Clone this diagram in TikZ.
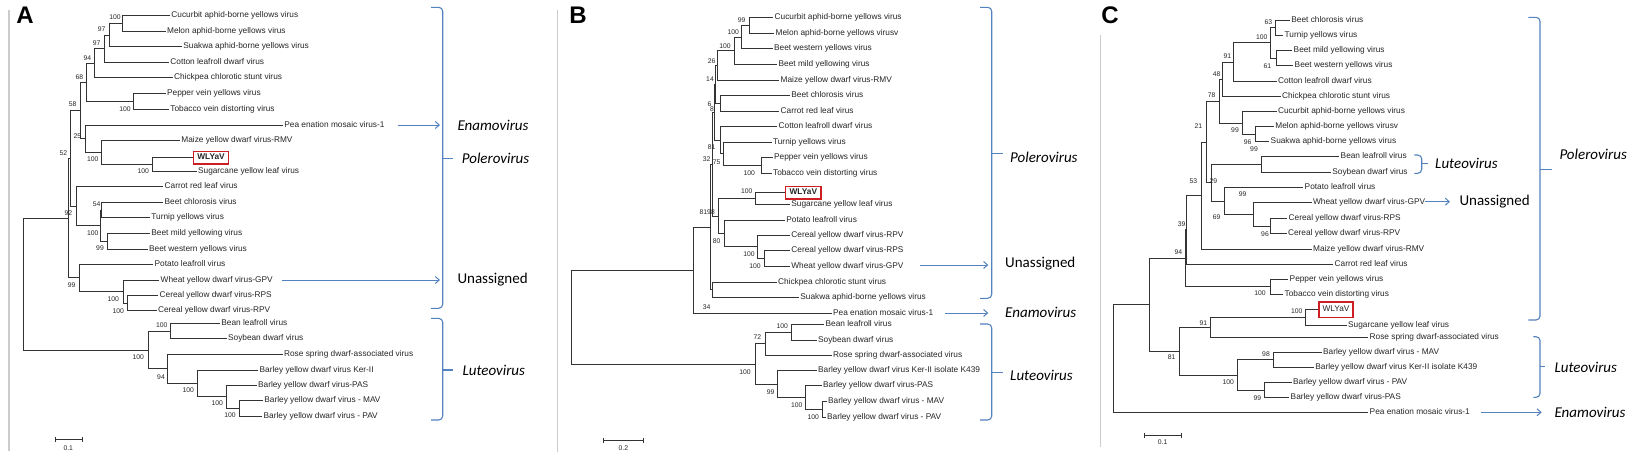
\documentclass[tikz,border=0pt]{standalone}
\usepackage{fontspec}
\setmainfont{Liberation Sans}
\newfontfamily\genusfont{Carlito}
\usetikzlibrary{arrows.meta}
\definecolor{genusblue}{RGB}{84,130,190}
\definecolor{boxred}{RGB}{205,30,35}
\tikzset{
  branch/.style={line width=0.9pt, black!80},
  leaf/.style={anchor=west, inner sep=1.2pt, font=\fontsize{8.3}{9}\selectfont, text=black!85, text height=6pt, text depth=1.7pt},
  boot/.style={inner sep=0pt, font=\fontsize{6.8}{7}\selectfont, text=black!85},
  virusbox/.style={leaf, draw=boxred, line width=1.3pt, inner xsep=4pt, inner ysep=2.5pt, font=\fontsize{8.3}{9}\selectfont\bfseries},
  genus/.style={anchor=west, inner sep=0pt, font=\genusfont\fontsize{15}{16}\selectfont\itshape, text=black},
  unassigned/.style={genus, font=\genusfont\fontsize{15}{16}\selectfont},
  brace/.style={genusblue, line width=1.1pt, rounded corners=4pt},
  genusarrow/.style={genusblue, line width=1pt, -{Straight Barb[length=4pt,width=7pt]}},
  panelrule/.style={gray!40, line width=1.3pt},
  panelletter/.style={inner sep=0pt, font=\fontsize{24}{24}\selectfont\bfseries},
  scalebar/.style={branch, {Bar[width=5pt]}-{Bar[width=5pt]}},
}
\begin{document}
\begin{tikzpicture}[x=1pt, y=-1pt]
    \useasboundingbox[fill=white] (0,0) rectangle (1648,459);

    % panel frames and letters
    \draw[panelrule] (9,10) -- (9,451);
    \draw[panelrule] (557.3,10) -- (557.3,452);
    \draw[panelrule] (1100.7,35) -- (1100.7,447);
    \node[panelletter] (letA) at (25,15) {A};
    \node[panelletter] (letB) at (578,15) {B};
    \node[panelletter] (letC) at (1110,15) {C};

    %%%%%%%%%%%%%%%% Panel A
    \foreach \n/\x/\y/\t in {A1/170/15.7/Cucurbit aphid-borne yellows virus,
        A2/165.7/31.7/Melon aphid-borne yellows virus,
        A3/182/46.7/Suakwa aphid-borne yellows virus,
        A4/169/62.3/Cotton leafroll dwarf virus,
        A5/172.7/77.7/Chickpea chlorotic stunt virus,
        A6/165.7/93.3/Pepper vein yellows virus,
        A7/169/109/Tobacco vein distorting virus,
        A8/283/125/Pea enation mosaic virus-1,
        A9/180/140/Maize yellow dwarf virus-RMV,
        A11/196.7/171.7/Sugarcane yellow leaf virus,
        A12/163.3/186.7/Carrot red leaf virus,
        A13/163.3/202.3/Beet chlorosis virus,
        A14/150/217.7/Turnip yellows virus,
        A15/150/233.3/Beet mild yellowing virus,
        A16/147.7/249/Beet western yellows virus,
        A17/153.3/264.3/Potato leafroll virus,
        A18/159.3/280/Wheat yellow dwarf virus-GPV,
        A19/158.3/295.3/Cereal yellow dwarf virus-RPS,
        A20/156.7/310.7/Cereal yellow dwarf virus-RPV,
        A21/220/323.3/Bean leafroll virus,
        A22/226.7/338.7/Soybean dwarf virus,
        A23/282.7/354.3/Rose spring dwarf-associated virus,
        A24/258.3/370/Barley yellow dwarf virus Ker-II,
        A25/256.7/385/Barley yellow dwarf virus-PAS,
        A26/263/400.7/Barley yellow dwarf virus - MAV,
        A27/262.3/416/Barley yellow dwarf virus - PAV}
        \node[leaf] (\n) at (\x,\y) {\t};
    \node[virusbox] (A10) at (192.7,157.5) {WLYaV};

    \foreach \n/\x/\y in {a1/122.7/23.7, a2/109.3/35.2, a3/104.3/48.75, a4/94/63.2,
        a5/133.3/101.2, a6/86/82.2, a7/152.7/164.6, a8/101/152.3, a9/85/138.7,
        a10/80/110.5, a11/101.7/210, a12/107.3/241.2, a13/100/225.6, a14/76/206.2,
        a15/127.7/303, a16/123.3/291.5, a17/79/277.9, a18/70/158.4, a19/68/218.2,
        a20/239.3/408.4, a21/226/396.7, a22/197.7/383.4, a23/167.7/368.9,
        a24/170/331, a25/148.3/350, aR/23.3/284.1}
        \coordinate (\n) at (\x,\y);

    \foreach \p/\c in {a1/A1, a1/A2, a2/a1, a2/A3, a3/a2, a3/A4, a4/a3, a4/A5,
        a5/A6, a5/A7, a6/a4, a6/a5, a7/A10, a7/A11, a8/A9, a8/a7, a9/A8, a9/a8,
        a10/a6, a10/a9, a11/A13, a11/A14, a12/A15, a12/A16, a13/a11, a13/a12,
        a14/A12, a14/a13, a15/A19, a15/A20, a16/A18, a16/a15, a17/A17, a17/a16,
        a18/a10, a18/a14, a19/a18, a19/a17, a20/A26, a20/A27, a21/A25, a21/a20,
        a22/A24, a22/a21, a23/A23, a23/a22, a24/A21, a24/A22, a25/a24, a25/a23,
        aR/a19, aR/a25}
        \draw[branch] (\p) |- (\c);

    \foreach \t/\x/\y [count=\i] in {100/115/17, 97/101.7/29, 97/96.7/43.3, 94/87.3/58.3,
        68/79.3/76.7, 58/72.7/104.3, 100/125/109, 25/77.3/135.7, 100/92.7/159,
        100/143.3/170.7, 52/63.3/152.7, 54/96.7/204, 92/68.3/213.3, 100/92.7/233.3,
        99/100/248.3, 99/71.7/285, 100/113.3/299, 100/118.3/310.7, 100/161.7/325,
        100/138.3/356.7, 94/161/376.7, 100/188.3/390, 100/217.3/403.3, 100/230/415}
        \node[boot] (bA\i) at (\x,\y) {\t};

    % scale A
    \coordinate (sA1) at (55,439.3);
    \coordinate (sA2) at (83.3,439.3);
    \draw[scalebar] (sA1) -- (sA2);
    \node[boot] (sAt) at (68.3,447.7) {0.1};

    % genera A
    \draw[brace] (431,7.3) -- (442.7,7.3) -- (442.7,308.3) -- (431,308.3);
    \draw[brace] (442.7,158.3) -- (453.3,158.3);
    \draw[brace] (431,318.3) -- (442.7,318.3) -- (442.7,420) -- (431,420);
    \draw[brace] (442.7,370) -- (453.3,370);
    \node[genus] (enaA) at (457.3,125) {Enamovirus};
    \node[genus] (polA) at (461.7,158.3) {Polerovirus};
    \node[unassigned] (unaA) at (457.3,279.3) {Unassigned};
    \node[genus] (lutA) at (462.3,370) {Luteovirus};
    \coordinate (arA1) at (397.7,125);
    \coordinate (arA2) at (440,125);
    \coordinate (arA3) at (281.7,280);
    \coordinate (arA4) at (440,280);
    \draw[genusarrow] (arA1) -- (arA2);
    \draw[genusarrow] (arA3) -- (arA4);

    %%%%%%%%%%%%%%%% Panel B
    \foreach \n/\x/\y/\t in {B1/773.3/17.3/Cucurbit aphid-borne yellows virus,
        B2/774.3/33/Melon aphid-borne yellows virusv,
        B3/772.7/48.7/Beet western yellows virus,
        B4/777.3/64/Beet mild yellowing virus,
        B5/779.3/80/Maize yellow dwarf virus-RMV,
        B6/790/95.7/Beet chlorosis virus,
        B7/779.3/111/Carrot red leaf virus,
        B8/777.3/126.7/Cotton leafroll dwarf virus,
        B9/771.7/142.3/Turnip yellows virus,
        B10/772.7/157.7/Pepper vein yellows virus,
        B11/771.7/173.3/Tobacco vein distorting virus,
        B13/790/204.7/Sugarcane yellow leaf virus,
        B14/785/220/Potato leafroll virus,
        B15/790/235/Cereal yellow dwarf virus-RPV,
        B16/790/250.7/Cereal yellow dwarf virus-RPS,
        B17/790/266/Wheat yellow dwarf virus-GPV,
        B18/776.7/282/Chickpea chlorotic stunt virus,
        B19/799/297.3/Suakwa aphid-borne yellows virus,
        B20/831.7/313.3/Pea enation mosaic virus-1,
        B21/824.3/324.5/Bean leafroll virus,
        B22/816.7/340/Soybean dwarf virus,
        B23/831.7/355/Rose spring dwarf-associated virus,
        B24/816.7/370.7/Barley yellow dwarf virus Ker-II isolate K439,
        B25/821.7/385.7/Barley yellow dwarf virus-PAS,
        B26/826.7/401.7/Barley yellow dwarf virus - MAV,
        B27/825.7/417.3/Barley yellow dwarf virus - PAV}
        \node[leaf] (\n) at (\x,\y) {\t};
    \node[virusbox] (B12) at (785,192.5) {WLYaV};

    \foreach \n/\x/\y in {b1/749/25.2, b2/741.7/37, b3/734/50.5, b4/717.3/65.3,
        b5/720.7/103.4, b6/715.7/84.4, b7/761/165.5, b8/723.3/153.9, b9/720.7/140.3,
        b10/714.3/112.4, b11/755/198.6, b12/764/258.4, b13/757.3/246.7, b14/724/233.4,
        b15/718.3/216, b16/712.7/164.2, b17/712.7/289.7, b18/710.7/227, b19/693.3/270.2,
        b20/822.7/409.5, b21/805.7/397.6, b22/777.3/384.2, b23/791.7/332.3,
        b24/765.7/343.7, b25/755/364, bR/571.7/317.1}
        \coordinate (\n) at (\x,\y);

    \foreach \p/\c in {b1/B1, b1/B2, b2/b1, b2/B3, b3/b2, b3/B4, b4/b3, b4/B5,
        b5/B6, b5/B7, b6/b4, b6/b5, b7/B10, b7/B11, b8/B9, b8/b7, b9/B8, b9/b8,
        b10/b6, b10/b9, b11/B12, b11/B13, b12/B16, b12/B17, b13/B15, b13/b12,
        b14/B14, b14/b13, b15/b11, b15/b14, b16/b10, b16/b15, b17/B18, b17/B19,
        b18/b16, b18/b17, b19/b18, b19/B20, b20/B26, b20/B27, b21/B25, b21/b20,
        b22/B24, b22/b21, b23/B21, b23/B22, b24/b23, b24/B23, b25/b24, b25/b22,
        bR/b19, bR/b25}
        \draw[branch] (\p) |- (\c);

    \foreach \t/\x/\y [count=\i] in {99/741.7/20, 100/733.3/31.7, 100/725/45.7,
        26/711.7/60.7, 14/710/79, 6/709.5/104, 8/712/109.5, 81/711.7/146.7,
        32/706.7/159, 75/716.7/161.7, 100/749.3/173.3, 100/746.7/190.7,
        81/703.3/212.3, 98/711/212.3, 80/716.7/240.7, 100/749/254.3, 100/755/266,
        34/706.7/306.7, 100/782.3/326, 72/757.3/337.3, 100/745/371.7,
        99/770.7/391.7, 100/796.7/405, 100/813.3/416.7}
        \node[boot] (bB\i) at (\x,\y) {\t};

    % scale B
    \coordinate (sB1) at (603.3,440.7);
    \coordinate (sB2) at (644,440.7);
    \draw[scalebar] (sB1) -- (sB2);
    \node[boot] (sBt) at (623.3,448.3) {0.2};

    % genera B
    \draw[brace] (980,7.3) -- (991.7,7.3) -- (991.7,298.3) -- (980,298.3);
    \draw[brace] (991.7,153.3) -- (1003.3,153.3);
    \draw[brace] (980,324) -- (991.7,324) -- (991.7,420) -- (980,420);
    \draw[brace] (991.7,372.3) -- (1003.3,372.3);
    \node[genus] (polB) at (1010,157) {Polerovirus};
    \node[unassigned] (unaB) at (1005,263.3) {Unassigned};
    \node[genus] (enaB) at (1005,312.7) {Enamovirus};
    \node[genus] (lutB) at (1010,375) {Luteovirus};
    \coordinate (arB1) at (920,265);
    \coordinate (arB2) at (988.3,265);
    \coordinate (arB3) at (945,313);
    \coordinate (arB4) at (988.3,313);
    \draw[genusarrow] (arB1) -- (arB2);
    \draw[genusarrow] (arB3) -- (arB4);

    %%%%%%%%%%%%%%%% Panel C
    \foreach \n/\x/\y/\t in {C1/1290/20/Beet chlorosis virus,
        C2/1283.3/35/Turnip yellows virus,
        C3/1292.3/50.7/Beet mild yellowing virus,
        C4/1293.3/65.7/Beet western yellows virus,
        C5/1276.7/81/Cotton leafroll dwarf virus,
        C6/1280.7/96.7/Chickpea chlorotic stunt virus,
        C7/1276.7/111.7/Cucurbit aphid-borne yellows virus,
        C8/1274/126.7/Melon aphid-borne yellows virusv,
        C9/1269.3/141.7/Suakwa aphid-borne yellows virus,
        C10/1339.3/156.7/Bean leafroll virus,
        C11/1331/172.3/Soybean dwarf virus,
        C12/1303.3/187.7/Potato leafroll virus,
        C13/1311.7/202.7/Wheat yellow dwarf virus-GPV,
        C14/1287.3/218.3/Cereal yellow dwarf virus-RPS,
        C15/1286.7/233.7/Cereal yellow dwarf virus-RPV,
        C16/1311.7/249/Maize yellow dwarf virus-RMV,
        C17/1333.3/264/Carrot red leaf virus,
        C18/1288.3/279.3/Pepper vein yellows virus,
        C19/1283.3/294/Tobacco vein distorting virus,
        C21/1346.7/325/Sugarcane yellow leaf virus,
        C22/1368.3/337/Rose spring dwarf-associated virus,
        C23/1321.7/352.3/Barley yellow dwarf virus - MAV,
        C24/1314/367.3/Barley yellow dwarf virus Ker-II isolate K439,
        C25/1291.7/382.7/Barley yellow dwarf virus - PAV,
        C26/1289.3/397.7/Barley yellow dwarf virus-PAS,
        C27/1368.3/412.7/Pea enation mosaic virus-1}
        \node[leaf] (\n) at (\x,\y) {\t};
    \node[virusbox, font=\fontsize{8.3}{9}\selectfont, inner ysep=3.8pt, inner xsep=3.6pt] (C20) at (1318.3,309.7) {WLYaV};

    \foreach \n/\x/\y in {c1/1275/27.5, c2/1276.7/58.2, c3/1270.7/42.9, c4/1233.3/62,
        c5/1222.7/79.4, c6/1255/134.2, c7/1242.7/123, c8/1219/101.2, c9/1261/164.5,
        c10/1270.7/226, c11/1253.3/214.4, c12/1224/201.1, c13/1211.7/182.8,
        c14/1206.7/142, c15/1201/195.5, c16/1186.7/229.8, c17/1270/286.7,
        c18/1185/258.3, c19/1305.7/317.4, c20/1210.7/327.2, c21/1273.3/359.8,
        c22/1264.3/390.2, c23/1237.7/375, c24/1179/351.1, c25/1149/304.7,
        cR/1113.3/358.7}
        \coordinate (\n) at (\x,\y);

    \foreach \p/\c in {c1/C1, c1/C2, c2/C3, c2/C4, c3/c1, c3/c2, c4/c3, c4/C5,
        c5/c4, c5/C6, c6/C8, c6/C9, c7/C7, c7/c6, c8/c5, c8/c7, c9/C10, c9/C11,
        c10/C14, c10/C15, c11/C13, c11/c10, c12/C12, c12/c11, c13/c9, c13/c12,
        c14/c8, c14/c13, c15/c14, c15/C16, c16/c15, c16/C17, c17/C18, c17/C19,
        c18/c16, c18/c17, c19/C20, c19/C21, c20/c19, c20/C22, c21/C23, c21/C24,
        c22/C25, c22/C26, c23/c21, c23/c22, c24/c20, c24/c23, c25/c18, c25/c24,
        cR/c25, cR/C27}
        \draw[branch] (\p) |- (\c);

    \foreach \t/\x/\y [count=\i] in {63/1268.3/21.7, 100/1261.7/37.3, 61/1267.3/65.7,
        91/1227.3/56, 48/1216.7/74, 78/1211.7/95, 99/1235/130, 96/1247.7/141.7,
        21/1198.3/126, 99/1254/149, 53/1193.3/181, 29/1213.3/181, 99/1242.7/194.3,
        69/1216.7/216.7, 96/1265/234, 39/1181.7/224, 94/1178.3/252.3,
        100/1260/293.3, 100/1296.7/311, 91/1203.3/323.3, 98/1266/354.3,
        81/1171.7/357.3, 100/1228.3/382.3, 99/1257.3/397.7}
        \node[boot] (bC\i) at (\x,\y) {\t};

    % scale C
    \coordinate (sC1) at (1144.3,435);
    \coordinate (sC2) at (1182.3,435);
    \draw[scalebar] (sC1) -- (sC2);
    \node[boot] (sCt) at (1162.7,441.7) {0.1};

    % genera C
    \draw[brace] (1528.3,17.3) -- (1540,17.3) -- (1540,320) -- (1528.3,320);
    \draw[brace] (1540,169.3) -- (1551.7,169.3);
    \draw[brace] (1414.3,155) -- (1421.7,155) -- (1421.7,173.3) -- (1414.3,173.3);
    \draw[brace] (1421.7,163.3) -- (1428.3,163.3);
    \draw[brace] (1533.3,336.7) -- (1540,336.7) -- (1540,397.3) -- (1533.3,397.3);
    \draw[brace] (1540,366.7) -- (1545,366.7);
    \node[genus] (polC) at (1559.3,154) {Polerovirus};
    \node[genus] (lutC1) at (1435,163.3) {Luteovirus};
    \node[unassigned] (unaC) at (1459.3,201.7) {Unassigned};
    \node[genus] (lutC2) at (1554.3,367.7) {Luteovirus};
    \node[genus] (enaC) at (1554.3,412) {Enamovirus};
    \coordinate (arC1) at (1425,201.7);
    \coordinate (arC2) at (1450,201.7);
    \coordinate (arC3) at (1480.7,412.3);
    \coordinate (arC4) at (1541.7,412.3);
    \draw[genusarrow] (arC1) -- (arC2);
    \draw[genusarrow] (arC3) -- (arC4);
\end{tikzpicture}
\end{document}
